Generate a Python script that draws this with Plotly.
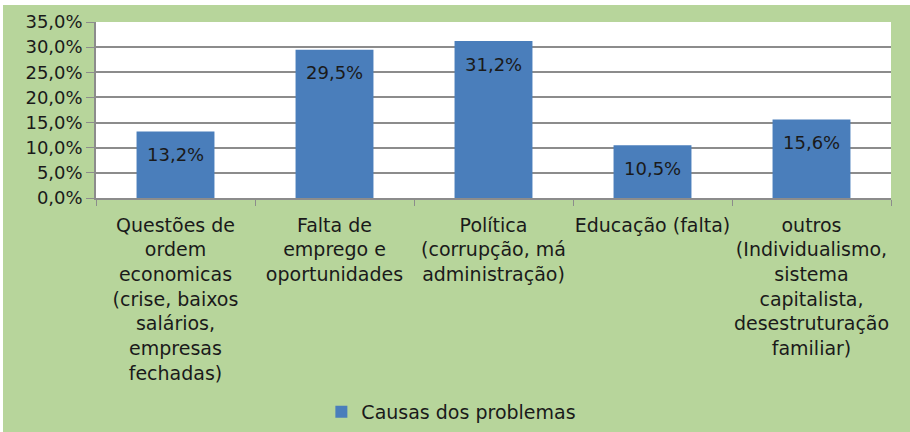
import plotly.graph_objects as go

categories = [
    "Questões de<br>ordem<br>economicas<br>(crise, baixos<br>salários,<br>empresas<br>fechadas)",
    "Falta de<br>emprego e<br>oportunidades",
    "Política<br>(corrupção, má<br>administração)",
    "Educação (falta)",
    "outros<br>(Individualismo,<br>sistema<br>capitalista,<br>desestruturação<br>familiar)",
]
values = [0.132, 0.295, 0.312, 0.105, 0.156]
series_name = "Causas dos problemas"
y_ticks = [0.0, 0.05, 0.10, 0.15, 0.20, 0.25, 0.30, 0.35]

FONT = "DejaVu Sans"
TXT = "#1a1a1a"
GRID = "#8c8c8c"
BAR = "#4a7ebb"
BG = "#b7d59b"

fig = go.Figure()
fig.add_trace(go.Bar(
    x=categories, y=values, name=series_name,
    marker=dict(color=BAR, line=dict(width=0)),
    showlegend=True,
))

for c, v in zip(categories, values):
    fig.add_annotation(
        x=c, y=v, xref="x", yref="y",
        text=f"{v*100:.1f}%".replace(".", ","),
        showarrow=False, yanchor="middle", yshift=-23,
        font=dict(family=FONT, size=18, color=TXT),
    )

fig.update_layout(
    width=910, height=427,
    margin=dict(l=93, r=22, t=17, b=234, autoexpand=False),
    paper_bgcolor=BG, plot_bgcolor="white",
    separators=",.",
    bargap=0.51,
    font=dict(family=FONT, size=18, color=TXT),
    legend=dict(
        orientation="h", x=0.447, xanchor="center", y=-1.215, yanchor="middle",
        font=dict(family=FONT, size=19, color=TXT),
        bgcolor="rgba(0,0,0,0)", itemwidth=30,
    ),
)
fig.update_xaxes(
    automargin=False,
    showline=True, linecolor=GRID, linewidth=1.5,
    ticks="outside", tickson="boundaries", ticklen=6, tickcolor=GRID,
    ticklabelstandoff=9,
    tickfont=dict(family=FONT, size=19, color=TXT),
    showgrid=False, tickangle=0,
)
fig.update_yaxes(
    automargin=False,
    range=[0, 0.35], tickvals=y_ticks, tickformat=".1%",
    showline=True, linecolor=GRID, linewidth=1.5,
    ticks="outside", ticklen=8, tickcolor=GRID,
    showgrid=True, gridcolor=GRID, gridwidth=1.5,
    zeroline=False,
    tickfont=dict(family=FONT, size=18, color=TXT),
)

fig.write_html(
    "out.html",
    post_script="document.body.style.margin='5px 0 0 3px';document.body.style.overflow='hidden';",
)
